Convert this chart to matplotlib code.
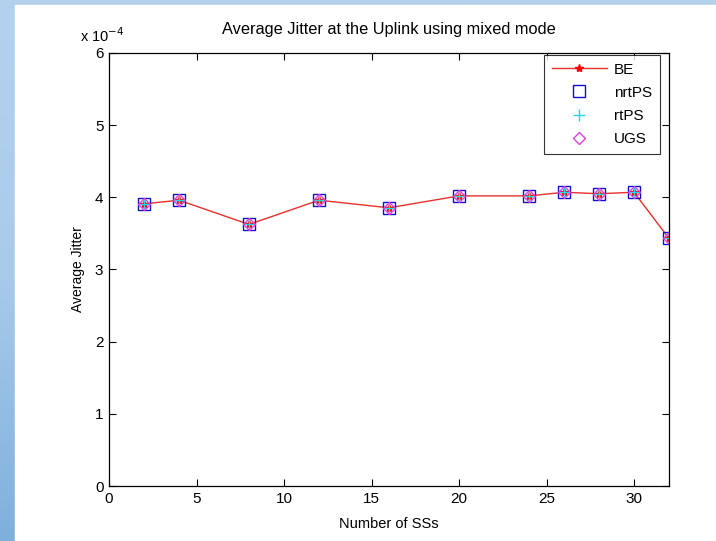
import numpy as np
import matplotlib
matplotlib.use("Agg")
import matplotlib.pyplot as plt
from matplotlib.ticker import FuncFormatter, MultipleLocator
from matplotlib.colors import LinearSegmentedColormap

plt.rcParams['font.family'] = ['Liberation Sans', 'DejaVu Sans']

num_ss = [2, 4, 8, 12, 16, 20, 24, 26, 28, 30, 32]
be = [3.91e-4, 3.96e-4, 3.625e-4, 3.96e-4, 3.855e-4, 4.02e-4, 4.02e-4, 4.07e-4, 4.05e-4, 4.07e-4, 3.43e-4]
nrtps = list(be)
rtps = list(be)
ugs = list(be)

W, H = 716, 541
fig = plt.figure(figsize=(W / 100, H / 100), dpi=100)

# background gradient strip
bg = fig.add_axes([0, 0, 1, 1], zorder=-10)
grad = np.linspace(0, 1, 256).reshape(-1, 1)
cmap = LinearSegmentedColormap.from_list('bg', ['#b4d2ee', '#a9cbea', '#7fb0dc'])
bg.imshow(grad, aspect='auto', cmap=cmap, extent=[0, 1, 0, 1], origin='upper')
bg.add_patch(plt.Rectangle((15 / W, 0), 1 - 15 / W, 1 - 5 / H, color='white', transform=bg.transAxes))
bg.set_xlim(0, 1)
bg.set_ylim(0, 1)
bg.axis('off')

left, right, top, bottom = 109, 669, 53, 486
ax = fig.add_axes([left / W, 1 - bottom / H, (right - left) / W, (bottom - top) / H])

ax.plot(num_ss, be, color='#e8302c', lw=1.0, marker='*', ms=6, mec='red', mfc='red', label='BE')
ax.plot(num_ss, nrtps, ls='none', marker='s', ms=8, mec='#1010c8', mfc='none', mew=1.0, label='nrtPS')
ax.plot(num_ss, rtps, ls='none', marker='+', ms=8, mec='#20d8e0', mew=1.0, label='rtPS')
ax.plot(num_ss, ugs, ls='none', marker='D', ms=6, mec='#e040e0', mfc='none', mew=1.0, label='UGS')

ax.set_xlim(0, 32)
ax.set_ylim(0, 6e-4)
ax.xaxis.set_major_locator(MultipleLocator(5))
ax.yaxis.set_major_locator(MultipleLocator(1e-4))
ax.yaxis.set_major_formatter(FuncFormatter(lambda v, p: f"{v / 1e-4:.0f}"))
ax.tick_params(direction='in', top=True, right=True, length=5, width=0.8, labelsize=11, pad=4)
for s in ax.spines.values():
    s.set_linewidth(0.9)

ax.set_title('Average Jitter at the Uplink using mixed mode', fontsize=11.8, pad=14)
ax.set_xlabel('Number of SSs', fontsize=10.5, labelpad=8)
ax.set_ylabel('Average Jitter', fontsize=10, labelpad=7)
ax.text(-0.052, 1.018, r'x 10$^{-4}$', transform=ax.transAxes, fontsize=10.5, ha='left', va='bottom')

leg = ax.legend(loc='upper right', fontsize=11, frameon=True, fancybox=False,
                edgecolor='black', borderpad=0.5, handlelength=3.6, handletextpad=0.5,
                labelspacing=0.6, borderaxespad=0, bbox_to_anchor=(1 - 9 / 560, 1 - 2 / 433))
leg.get_frame().set_linewidth(0.8)

fig.savefig('out.png', dpi=100)
